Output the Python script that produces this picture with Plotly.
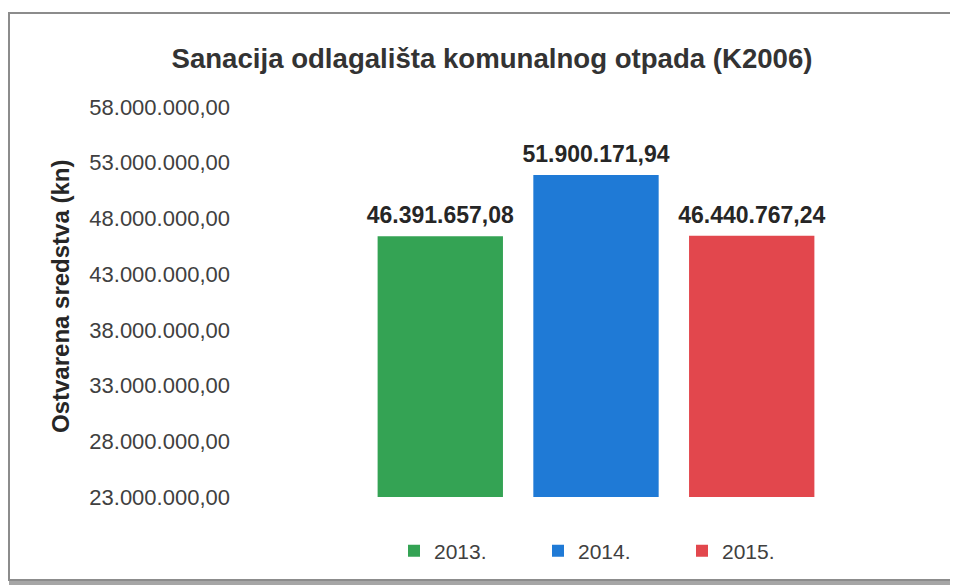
import plotly.graph_objects as go

categories = ["Ostvarena sredstva"]
series_names = ["2013.", "2014.", "2015."]
series_values = [46391657.08, 51900171.94, 46440767.24]
series_colors = ["#34A354", "#1F7AD6", "#E2474D"]
y_tick_start = 23000000
y_tick_end = 58000000
y_tick_step = 5000000

title_text = "Sanacija odlagališta komunalnog otpada (K2006)"
y_title = "Ostvarena sredstva (kn)"

# the page places the figure at about (8, 7) in the window
OX, OY = 8, 7
W, H = 958, 588
L, R, T = 235 - OX, 9, 106 - OY
B = H - (496 - OY)
pw = W - L - R
ph = H - T - B

def px_x(px):  # screen px -> paper
    return (px - OX - L) / pw

def px_y(py):
    return (H - B - (py - OY)) / ph

FONT = "Liberation Sans"

fig = go.Figure()
for name, val, col in zip(series_names, series_values, series_colors):
    fig.add_trace(go.Bar(
        x=categories, y=[val], name=name, offsetgroup=name,
        marker=dict(color=col, line=dict(width=0)),
        hoverinfo="skip",
    ))
for name, val in zip(series_names, series_values):
    fig.add_trace(go.Scatter(
        x=categories, y=[val], name=name, offsetgroup=name, showlegend=False,
        mode="markers+text", marker=dict(size=10, opacity=0),
        texttemplate="<b>%{y:,.2f}</b>", textposition="top center",
        textfont=dict(size=23, color="#262626", family=FONT),
        cliponaxis=False,
    ))

fig.update_layout(
    width=W, height=H,
    margin=dict(l=L, r=R, t=T, b=B, autoexpand=False),
    paper_bgcolor="white", plot_bgcolor="white",
    separators=",.",
    barmode="group", bargap=0.353, bargroupgap=0.195,
    scattermode="group", scattergap=0.353,
    font=dict(family=FONT, color="#404040"),
    title=dict(text="<b>" + title_text + "</b>", x=px_x(492), xref="paper", xanchor="center",
               y=1 - (57 - OY) / H, yref="container", yanchor="middle",
               font=dict(size=27.6, color="#333333", family=FONT)),
    showlegend=True,
    legend=dict(orientation="h", x=px_x(394), xanchor="left", y=px_y(550), yanchor="middle",
                entrywidth=99, entrywidthmode="pixels", bgcolor="rgba(0,0,0,0)",
                font=dict(size=21, color="#404040", family=FONT)),
    xaxis=dict(showticklabels=False, showline=False, showgrid=False, zeroline=False,
               ticks="", automargin=False),
    yaxis=dict(range=[y_tick_start, y_tick_end], tick0=y_tick_start, dtick=y_tick_step,
               tickformat=",.2f", showgrid=False, showline=False, zeroline=False,
               ticks="", ticklabelstandoff=4, automargin=False,
               tickfont=dict(size=22, color="#404040", family=FONT)),
)

fig.add_annotation(text="<b>" + y_title + "</b>", textangle=-90,
                   xref="paper", yref="paper", x=px_x(60), y=px_y(296),
                   xanchor="center", yanchor="middle", showarrow=False,
                   font=dict(size=24, color="#262626", family=FONT))

# chart frame
fig.add_shape(type="rect", xref="paper", yref="paper",
              x0=px_x(9), x1=px_x(955), y0=px_y(579), y1=px_y(12),
              line=dict(color="#8c8c8c", width=2), layer="below")
fig.add_shape(type="line", xref="paper", yref="paper",
              x0=px_x(9), x1=px_x(957), y0=px_y(582), y1=px_y(582),
              line=dict(color="#a6a6a6", width=4), layer="below")

fig.write_html("out.html")
